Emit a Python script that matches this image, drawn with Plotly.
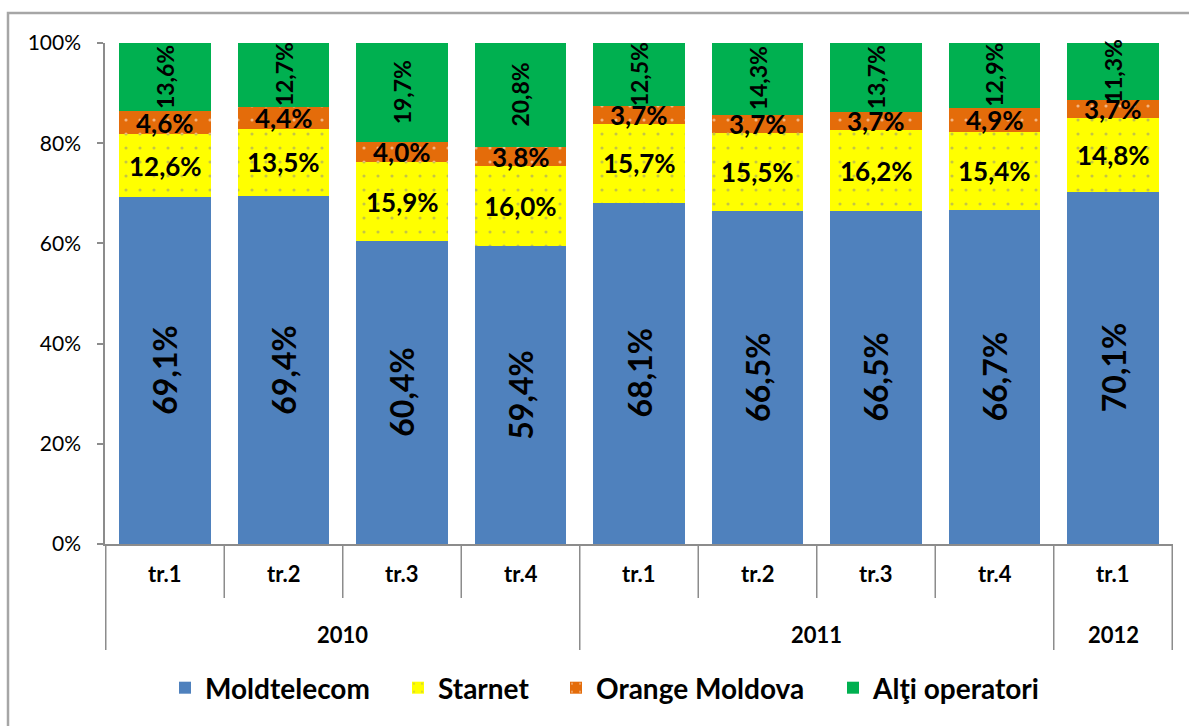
import numpy as np
import plotly.graph_objects as go

years = ["2010"] * 4 + ["2011"] * 4 + ["2012"]
quarters = ["tr.1", "tr.2", "tr.3", "tr.4", "tr.1", "tr.2", "tr.3", "tr.4", "tr.1"]

moldtelecom = [69.1, 69.4, 60.4, 59.4, 68.1, 66.5, 66.5, 66.7, 70.1]
starnet = [12.6, 13.5, 15.9, 16.0, 15.7, 15.5, 16.2, 15.4, 14.8]
orange = [4.6, 4.4, 4.0, 3.8, 3.7, 3.7, 3.7, 4.9, 3.7]
altii = [13.6, 12.7, 19.7, 20.8, 12.5, 14.3, 13.7, 12.9, 11.3]

series_names = ["Moldtelecom", "Starnet", "Orange Moldova", "Alţi operatori"]
series_values = [moldtelecom, starnet, orange, altii]
colors = ["#4F81BD", "#FFFF00", "#E46C0A", "#00B050"]

FONT = "Lato"
AXIS_GRAY = "#8c8c8c"
PLOT_W = 1068.0
PLOT_H = 501.0
MARGIN_L = 105

legend_ids = ["legend", "legend2", "legend3", "legend4"]
legend_text_px = [205, 438, 596, 873]  # where each legend entry's text starts

fig = go.Figure()
x = [years, quarters]
patterns = [
    None,
    dict(shape=".", fgcolor="#8a8a8a", bgcolor="#FFFF00", size=14, solidity=0.04, fillmode="overlay"),
    dict(shape=".", fgcolor="#ffffff", bgcolor="#E46C0A", size=14, solidity=0.04, fillmode="overlay"),
    None,
]
for name, vals, col, pat, lg in zip(series_names, series_values, colors, patterns, legend_ids):
    marker = dict(color=col, line=dict(width=0))
    if pat is not None:
        marker["pattern"] = pat
    fig.add_trace(go.Bar(x=x, y=vals, name=name, marker=marker, textposition="none",
                         hoverinfo="skip", legend=lg))

# value labels, positions derived from the data
arr = np.array(series_values, dtype=float)
totals = arr.sum(axis=0)
norm = arr / totals * 100.0
cum = np.cumsum(norm, axis=0)
centers = cum - norm / 2.0

label_styles = [
    dict(size=32, angle=-90),
    dict(size=26, angle=0),
    dict(size=26, angle=0),
    dict(size=23, angle=-90),
]

def fmt(v):
    return f"{v:.1f}".replace(".", ",") + "%"

annotations = []
for s, st in enumerate(label_styles):
    for i in range(len(quarters)):
        annotations.append(dict(
            x=i, y=centers[s, i], xref="x", yref="y",
            text=fmt(arr[s, i]), showarrow=False, textangle=st["angle"],
            font=dict(family=FONT, size=st["size"], color="black", weight="bold"),
            xanchor="center", yanchor="middle",
        ))

# two-level category labels
for i, q in enumerate(quarters):
    annotations.append(dict(x=i, y=-29 / PLOT_H, xref="x", yref="paper", text=q,
                            showarrow=False, xanchor="center", yanchor="middle",
                            font=dict(family=FONT, size=22, color="black", weight="bold")))
groups = []
for i, yv in enumerate(years):
    if not groups or groups[-1][0] != yv:
        groups.append([yv, i, i])
    else:
        groups[-1][2] = i
for yv, a, b in groups:
    annotations.append(dict(x=(a + b) / 2.0, y=-90 / PLOT_H, xref="x", yref="paper", text=yv,
                            showarrow=False, xanchor="center", yanchor="middle",
                            font=dict(family=FONT, size=22, color="black", weight="bold")))

shapes = []
line_style = dict(color=AXIS_GRAY, width=1.5)
for i in range(len(quarters) - 1):
    if years[i] == years[i + 1]:
        shapes.append(dict(type="line", xref="x", yref="paper", x0=i + 0.5, x1=i + 0.5,
                           y0=0, y1=-54 / PLOT_H, line=line_style))
bounds = [groups[0][1] - 0.5] + [b + 0.5 for _, _, b in groups]
for bx in bounds:
    shapes.append(dict(type="line", xref="x", yref="paper", x0=bx, x1=bx,
                       y0=0, y1=-106 / PLOT_H, line=line_style))
shapes.append(dict(type="rect", xref="paper", yref="paper", x0=-97 / PLOT_W, x1=1.2,
                   y0=-0.6, y1=(544 - 13) / PLOT_H, line=dict(color="#a6a6a6", width=2.5),
                   fillcolor="rgba(0,0,0,0)", layer="below"))

legend_font = dict(family=FONT, size=28, color="black", weight="bold")
legends = {}
for lg, tx in zip(legend_ids, legend_text_px):
    legends[lg] = dict(orientation="h", x=(tx - 40 - MARGIN_L) / PLOT_W, xanchor="left",
                       y=-144 / PLOT_H, yanchor="middle", font=legend_font,
                       itemwidth=30, bgcolor="rgba(0,0,0,0)", borderwidth=0)

fig.update_layout(
    barmode="stack",
    barnorm="percent",
    bargap=0.225,
    width=1189, height=726,
    margin=dict(l=MARGIN_L, r=16, t=43, b=182),
    paper_bgcolor="white", plot_bgcolor="white",
    font=dict(family=FONT, color="black"),
    showlegend=True,
    annotations=annotations,
    shapes=shapes,
    **legends,
)
fig.update_yaxes(range=[0, 100], dtick=20, ticksuffix="%", showgrid=False,
                 showline=True, linecolor=AXIS_GRAY, linewidth=1.5,
                 ticks="outside", ticklen=6, tickcolor=AXIS_GRAY, tickwidth=1.5,
                 tickfont=dict(family=FONT, size=21, color="black"),
                 ticklabelstandoff=12, zeroline=False)
fig.update_xaxes(type="multicategory", showline=True, linecolor=AXIS_GRAY, linewidth=1.5,
                 showticklabels=False, ticks="", showdividers=False, showgrid=False)

fig.write_html("out.html", config={"displayModeBar": False},
               post_script="document.body.style.margin='0';")
